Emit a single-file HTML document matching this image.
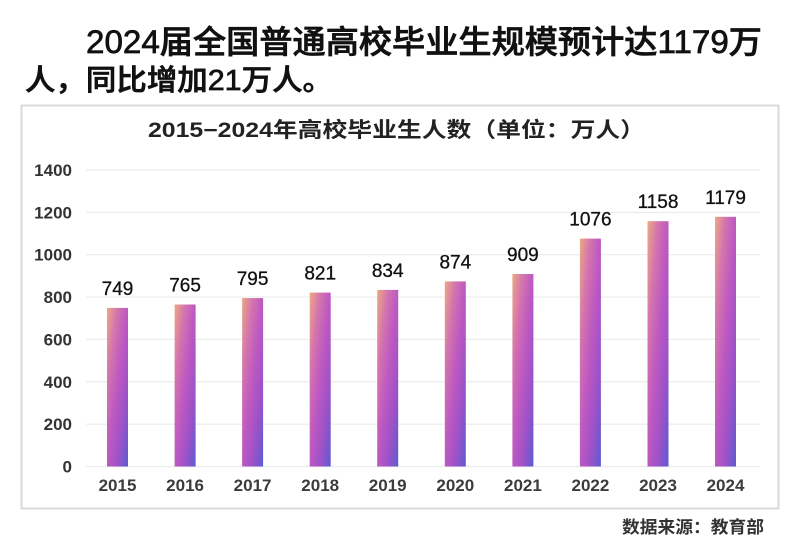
<!DOCTYPE html>
<html>
<head>
<meta charset="utf-8">
<style>
  html,body{margin:0;padding:0;background:#fff;}
  svg{display:block;}
  text{font-family:"Liberation Sans","Noto Sans CJK SC",sans-serif;}
</style>
</head>
<body>
<svg width="799" height="543" viewBox="0 0 799 543" xmlns="http://www.w3.org/2000/svg">
  <defs>
    <linearGradient id="bg" x1="0" y1="0" x2="1" y2="1">
      <stop offset="0" stop-color="#eca884"/>
      <stop offset="0.25" stop-color="#d474ae"/>
      <stop offset="0.5" stop-color="#bd58c2"/>
      <stop offset="0.75" stop-color="#9c52c8"/>
      <stop offset="1" stop-color="#5a5cd2"/>
    </linearGradient>
  </defs>
  <rect x="0" y="0" width="799" height="543" fill="#fff"/>

  <!-- Header -->
  <text x="86" y="53" font-size="32" font-weight="500" fill="#111" stroke="#111" stroke-width="0.7" textLength="676" lengthAdjust="spacingAndGlyphs">2024届全国普通高校毕业生规模预计达1179万</text>
  <text x="25" y="90" font-size="29" font-weight="500" fill="#111" stroke="#111" stroke-width="0.7" textLength="308" lengthAdjust="spacingAndGlyphs">人，同比增加21万人。</text>

  <!-- Chart box -->
  <rect x="21.5" y="105.5" width="757" height="403" fill="#fff" stroke="#dadada" stroke-width="2"/>

  <!-- Chart title -->
  <text x="148" y="137" font-size="21" font-weight="bold" fill="#222" textLength="497" lengthAdjust="spacingAndGlyphs">2015−2024年高校毕业生人数（单位：万人）</text>

  <!-- Gridlines -->
  <g stroke="#ececec" stroke-width="1.2">
    <line x1="86" y1="169.98" x2="760" y2="169.98"/>
    <line x1="86" y1="212.34" x2="760" y2="212.34"/>
    <line x1="86" y1="254.7" x2="760" y2="254.7"/>
    <line x1="86" y1="297.06" x2="760" y2="297.06"/>
    <line x1="86" y1="339.42" x2="760" y2="339.42"/>
    <line x1="86" y1="381.78" x2="760" y2="381.78"/>
    <line x1="86" y1="424.14" x2="760" y2="424.14"/>
    <line x1="86" y1="466.5" x2="760" y2="466.5"/>
  </g>

  <!-- Y labels -->
  <g font-size="17" font-weight="bold" fill="#333" text-anchor="end">
    <text x="72" y="176">1400</text>
    <text x="72" y="218.3">1200</text>
    <text x="72" y="260.7">1000</text>
    <text x="72" y="303">800</text>
    <text x="72" y="345.4">600</text>
    <text x="72" y="387.8">400</text>
    <text x="72" y="430.1">200</text>
    <text x="72" y="472.5">0</text>
  </g>

  <!-- Bars -->
  <g fill="url(#bg)">
    <rect x="107" y="307.9" width="21" height="158.6"/>
    <rect x="174.6" y="304.5" width="21" height="162"/>
    <rect x="242.1" y="298.1" width="21" height="168.4"/>
    <rect x="309.7" y="292.6" width="21" height="173.9"/>
    <rect x="377.2" y="289.9" width="21" height="176.6"/>
    <rect x="444.8" y="281.4" width="21" height="185.1"/>
    <rect x="512.4" y="274.0" width="21" height="192.5"/>
    <rect x="579.9" y="238.6" width="21" height="227.9"/>
    <rect x="647.5" y="221.2" width="21" height="245.3"/>
    <rect x="715" y="216.8" width="21" height="249.7"/>
  </g>

  <!-- Value labels -->
  <g font-size="19" fill="#111" stroke="#111" stroke-width="0.3" text-anchor="middle">
    <text x="117.5" y="294.9">749</text>
    <text x="185.1" y="291.5">765</text>
    <text x="252.6" y="285.1">795</text>
    <text x="320.2" y="279.6">821</text>
    <text x="387.7" y="276.9">834</text>
    <text x="455.3" y="268.4">874</text>
    <text x="522.9" y="261">909</text>
    <text x="590.4" y="225.6">1076</text>
    <text x="658" y="208.2">1158</text>
    <text x="725.5" y="203.8">1179</text>
  </g>

  <!-- X labels -->
  <g font-size="17" font-weight="bold" fill="#3c3c3c" text-anchor="middle">
    <text x="117.5" y="491">2015</text>
    <text x="185.1" y="491">2016</text>
    <text x="252.6" y="491">2017</text>
    <text x="320.2" y="491">2018</text>
    <text x="387.7" y="491">2019</text>
    <text x="455.3" y="491">2020</text>
    <text x="522.9" y="491">2021</text>
    <text x="590.4" y="491">2022</text>
    <text x="658" y="491">2023</text>
    <text x="725.5" y="491">2024</text>
  </g>

  <!-- Source -->
  <text x="622" y="533" font-size="17" font-weight="bold" fill="#333" textLength="142" lengthAdjust="spacingAndGlyphs">数据来源：教育部</text>
</svg>
</body>
</html>
